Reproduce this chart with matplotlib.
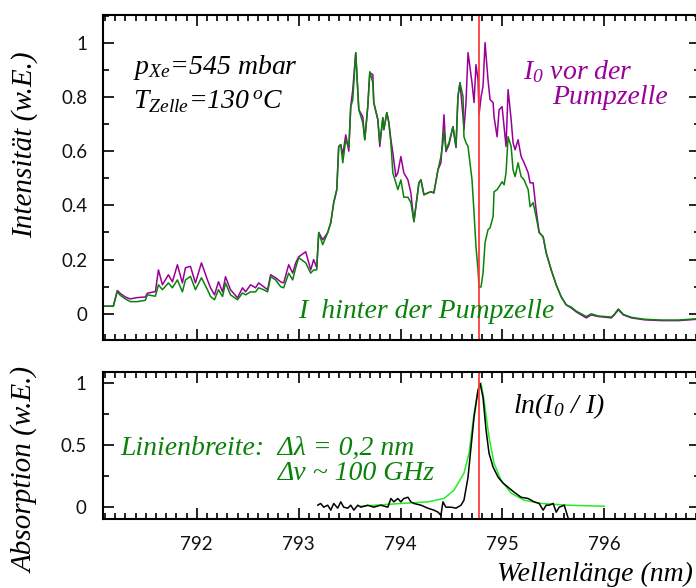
import matplotlib
matplotlib.use('Agg')
import matplotlib.pyplot as plt
from matplotlib.ticker import MultipleLocator, FuncFormatter

plt.rcParams['mathtext.fontset'] = 'custom'
plt.rcParams['mathtext.rm'] = 'Liberation Serif:italic'
plt.rcParams['mathtext.it'] = 'Liberation Serif:italic'

# top panel: spectra before (I0) and behind (I) the pump cell
wl = [791.083, 791.181, 791.220, 791.250, 791.299, 791.348, 791.417, 791.496, 791.515, 791.594,
      791.624, 791.663, 791.722, 791.761, 791.810, 791.859, 791.889, 791.938, 791.987, 792.046,
      792.105, 792.135, 792.174, 792.213, 792.253, 792.282, 792.331, 792.400, 792.449, 792.479,
      792.528, 792.577, 792.607, 792.656, 792.695, 792.725, 792.774, 792.823, 792.853, 792.902,
      792.941, 792.971, 793.000, 793.069, 793.118, 793.147, 793.177, 793.197, 793.236, 793.285,
      793.315, 793.344, 793.374, 793.393, 793.413, 793.433, 793.462, 793.492, 793.511, 793.531,
      793.560, 793.590, 793.629, 793.649, 793.678, 793.698, 793.728, 793.737, 793.777, 793.796,
      793.826, 793.836, 793.865, 793.885, 793.905, 793.924, 793.954, 793.973, 794.003, 794.032,
      794.072, 794.101, 794.131, 794.180, 794.200, 794.229, 794.268, 794.298, 794.327, 794.367,
      794.396, 794.416, 794.426, 794.445, 794.475, 794.514, 794.544, 794.563, 794.583, 794.613,
      794.622, 794.642, 794.662, 794.701, 794.721, 794.740, 794.760, 794.770, 794.790, 794.809,
      794.829, 794.858, 794.878, 794.908, 794.917, 794.947, 794.967, 794.996, 795.016, 795.035,
      795.055, 795.085, 795.104, 795.124, 795.153, 795.183, 795.212, 795.252, 795.271, 795.301,
      795.330, 795.360, 795.399, 795.429, 795.478, 795.527, 795.576, 795.625, 795.674, 795.724,
      795.773, 795.822, 795.871, 795.940, 795.999, 796.068, 796.097, 796.137, 796.186, 796.265,
      796.392, 796.559, 796.726, 796.913]
i0 = [0.028, 0.028, 0.086, 0.075, 0.062, 0.055, 0.060, 0.062, 0.076, 0.082,
      0.162, 0.107, 0.144, 0.118, 0.181, 0.114, 0.170, 0.175, 0.114, 0.188,
      0.125, 0.096, 0.070, 0.118, 0.081, 0.137, 0.089, 0.059, 0.096, 0.081,
      0.107, 0.096, 0.114, 0.100, 0.089, 0.144, 0.133, 0.118, 0.114, 0.181,
      0.150, 0.188, 0.210, 0.229, 0.162, 0.200, 0.170, 0.300, 0.273, 0.300,
      0.336, 0.410, 0.458, 0.617, 0.624, 0.587, 0.660, 0.600, 0.764, 0.827,
      0.963, 0.753, 0.727, 0.642, 0.764, 0.889, 0.882, 0.779, 0.716, 0.617,
      0.723, 0.679, 0.742, 0.705, 0.642, 0.594, 0.506, 0.520, 0.580, 0.520,
      0.494, 0.446, 0.340, 0.483, 0.494, 0.439, 0.446, 0.450, 0.446, 0.531,
      0.557, 0.668, 0.734, 0.598, 0.624, 0.690, 0.613, 0.801, 0.852, 0.727,
      0.679, 0.779, 0.963, 0.852, 0.779, 0.919, 0.863, 0.734, 0.801, 0.838,
      1.000, 0.863, 0.790, 0.779, 0.727, 0.653, 0.753, 0.764, 0.690, 0.617,
      0.827, 0.716, 0.631, 0.605, 0.642, 0.580, 0.557, 0.520, 0.483, 0.483,
      0.384, 0.300, 0.284, 0.225, 0.162, 0.107, 0.063, 0.033, 0.022, 0.007,
      -0.004, -0.015, -0.004, -0.010, -0.012, -0.015, -0.004, 0.015, -0.004, -0.015,
      -0.022, -0.025, -0.025, -0.020]
i1 = [0.028, 0.028, 0.082, 0.068, 0.055, 0.045, 0.045, 0.050, 0.070, 0.065,
      0.107, 0.089, 0.114, 0.096, 0.125, 0.081, 0.125, 0.138, 0.089, 0.133,
      0.089, 0.064, 0.052, 0.089, 0.064, 0.114, 0.070, 0.052, 0.077, 0.070,
      0.081, 0.081, 0.096, 0.089, 0.081, 0.137, 0.125, 0.100, 0.096, 0.150,
      0.125, 0.170, 0.207, 0.188, 0.150, 0.162, 0.162, 0.300, 0.255, 0.300,
      0.336, 0.410, 0.458, 0.617, 0.624, 0.557, 0.642, 0.613, 0.764, 0.790,
      0.963, 0.753, 0.705, 0.642, 0.764, 0.893, 0.852, 0.779, 0.716, 0.631,
      0.723, 0.679, 0.742, 0.705, 0.631, 0.520, 0.483, 0.458, 0.494, 0.430,
      0.430, 0.410, 0.340, 0.483, 0.494, 0.439, 0.446, 0.450, 0.446, 0.531,
      0.580, 0.631, 0.679, 0.605, 0.631, 0.690, 0.617, 0.801, 0.852, 0.801,
      0.653, 0.631, 0.617, 0.494, 0.373, 0.247, 0.162, 0.096, 0.100, 0.150,
      0.262, 0.310, 0.317, 0.358, 0.450, 0.458, 0.469, 0.487, 0.476, 0.520,
      0.653, 0.617, 0.531, 0.506, 0.557, 0.506, 0.494, 0.458, 0.395, 0.410,
      0.358, 0.300, 0.284, 0.225, 0.162, 0.107, 0.063, 0.033, 0.025, 0.010,
      0.000, -0.010, 0.000, -0.008, -0.010, -0.012, -0.002, 0.018, -0.002, -0.013,
      -0.020, -0.023, -0.023, -0.018]

# bottom panel: absorption ln(I0/I) and line fit
wl_abs = [793.187, 793.216, 793.246, 793.285, 793.315, 793.344, 793.383, 793.413, 793.442, 793.482,
          793.511, 793.541, 793.580, 793.610, 793.678, 793.737, 793.806, 793.875, 793.905, 793.934,
          793.973, 794.003, 794.032, 794.072, 794.101, 794.131, 794.200, 794.268, 794.327, 794.367,
          794.396, 794.416, 794.445, 794.495, 794.544, 794.593, 794.622, 794.662, 794.691, 794.721,
          794.760, 794.780, 794.809, 794.839, 794.868, 794.908, 794.957, 795.006, 795.055, 795.114,
          795.183, 795.252, 795.311, 795.360, 795.399, 795.429, 795.458, 795.497, 795.527, 795.557,
          795.606, 795.645]
absorp = [0.016, 0.030, 0.000, 0.016, -0.024, 0.030, -0.008, 0.043, 0.000, -0.008,
          0.016, -0.024, 0.016, 0.000, 0.016, 0.000, 0.016, 0.000, 0.070, 0.043,
          0.070, 0.043, 0.070, 0.080, 0.043, 0.030, 0.016, -0.008, -0.024, -0.040,
          -0.065, 0.043, 0.000, 0.000, -0.008, 0.016, 0.056, 0.242, 0.484, 0.726,
          0.944, 1.000, 0.887, 0.621, 0.435, 0.323, 0.242, 0.194, 0.161, 0.121,
          0.080, 0.070, 0.043, 0.030, -0.024, 0.016, 0.016, 0.030, -0.040, 0.000,
          0.016, -0.090]
wl_fit = [793.610, 794.003, 794.268, 794.426, 794.524, 794.622, 794.672, 794.721, 794.760, 794.790,
          794.819, 794.868, 794.917, 794.986, 795.085, 795.212, 795.380, 795.645, 795.970, 795.999]
fit = [0.008, 0.030, 0.043, 0.070, 0.137, 0.274, 0.435, 0.758, 0.944, 1.000,
       0.863, 0.565, 0.355, 0.218, 0.113, 0.056, 0.030, 0.016, 0.008, 0.008]

line_pos = 794.77

purple = '#990099'
dgreen = '#0a820a'
lgreen = '#22ee22'
red = '#ff3b3b'

fig = plt.figure(figsize=(6.96, 5.88), dpi=100)
ax1 = fig.add_axes([0.148, 0.422, 0.858, 0.553])
ax2 = fig.add_axes([0.148, 0.117, 0.858, 0.25])

serif = dict(family='Liberation Serif', style='italic')

ax1.plot(wl, i0, color=purple, lw=1.1)
ax1.plot(wl, i1, color=dgreen, lw=1.1)
ax1.axvline(line_pos, color=red, lw=1.3)
ax1.set_ylim(-0.096, 1.103)

ax2.plot(wl_fit, fit, color=lgreen, lw=1.1)
ax2.plot(wl_abs, absorp, color='black', lw=1.1)
ax2.axvline(line_pos, color=red, lw=1.3)
ax2.set_ylim(-0.097, 1.089)

for ax in (ax1, ax2):
    ax.set_xlim(791.08, 796.94)
    ax.xaxis.set_major_locator(MultipleLocator(1))
    ax.xaxis.set_minor_locator(MultipleLocator(0.1))
    ax.tick_params(which='both', direction='in', top=True, right=True, width=1.2)
    ax.tick_params(which='major', length=8)
    ax.tick_params(which='minor', length=4)
    for s in ax.spines.values():
        s.set_linewidth(1.5)

ax1.yaxis.set_major_locator(MultipleLocator(0.2))
ax1.yaxis.set_minor_locator(MultipleLocator(0.1))
ax1.yaxis.set_major_formatter(FuncFormatter(lambda v, p: f'{v:g}'))
ax1.tick_params(axis='x', labelbottom=False)
ax1.tick_params(axis='y', pad=11)

ax2.yaxis.set_major_locator(MultipleLocator(0.5))
ax2.yaxis.set_minor_locator(MultipleLocator(0.25))
ax2.yaxis.set_major_formatter(FuncFormatter(lambda v, p: f'{v:g}'))
ax2.tick_params(axis='y', pad=12)
ax2.tick_params(axis='x', pad=12)

for ax in (ax1, ax2):
    for lab in ax.get_xticklabels() + ax.get_yticklabels():
        lab.set_fontfamily('Lato')
        lab.set_fontsize(13.5)
        lab.set_color('#111111')

fig.text(0.036, 1 - 145 / 588, 'Intensität (w.E.)', rotation=90, ha='center', va='center',
         fontsize=21, **serif)
fig.text(0.036, 1 - 470 / 588, 'Absorption (w.E.)', rotation=90, ha='center', va='center',
         fontsize=21, **serif)
fig.text(0.996, 1 - 574 / 588, 'Wellenlänge (nm)', ha='right', va='center', fontsize=20, **serif)

ax1.text(133 / 696, 1 - 68 / 588, r'p$_{Xe}$=545 mbar', transform=fig.transFigure,
         ha='left', va='center', fontsize=20, color='black', **serif)
ax1.text(133 / 696, 1 - 102 / 588, r'T$_{Zelle}$=130$\,^{o}$C', transform=fig.transFigure,
         ha='left', va='center', fontsize=20, color='black', **serif)
ax1.text(523 / 696, 1 - 72 / 588, r'I$_{0}$ vor der', transform=fig.transFigure,
         ha='left', va='center', fontsize=20, color=purple, **serif)
ax1.text(668 / 696, 1 - 98 / 588, 'Pumpzelle', transform=fig.transFigure,
         ha='right', va='center', fontsize=20, color=purple, **serif)
ax1.text(298 / 696, 1 - 312 / 588, 'I  hinter der Pumpzelle', transform=fig.transFigure,
         ha='left', va='center', fontsize=20, color=dgreen, **serif)

ax2.text(120 / 696, 1 - 448 / 588, 'Linienbreite:  Δλ = 0,2 nm', transform=fig.transFigure,
         ha='left', va='center', fontsize=20, color=dgreen, **serif)
ax2.text(278 / 696, 1 - 473 / 588, 'Δν ~ 100 GHz', transform=fig.transFigure,
         ha='left', va='center', fontsize=20, color=dgreen, **serif)
ax2.text(513 / 696, 1 - 406 / 588, r'ln(I$_{0}$ / I)', transform=fig.transFigure,
         ha='left', va='center', fontsize=20, color='black', **serif)

fig.savefig('out.png', dpi=100)
